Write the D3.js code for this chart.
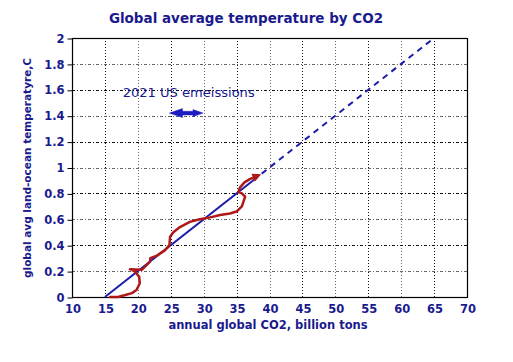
<!DOCTYPE html>
<html>
<head>
<meta charset="utf-8">
<script src="https://cdn.jsdelivr.net/npm/d3@7"></script>
<style>
  body { margin: 0; background: #fff; }
  text { font-family: "DejaVu Sans", Verdana, sans-serif; }
</style>
</head>
<body>
<svg width="513" height="362"></svg>
<script>
  'use strict';
  // data
  const xTicks = [10, 15, 20, 25, 30, 35, 40, 45, 50, 55, 60, 65, 70];
  const yTicks = [0, 0.2, 0.4, 0.6, 0.8, 1, 1.2, 1.4, 1.6, 1.8, 2];
  const yTickLabels = ['0', '0.2', '0.4', '0.6', '0.8', '1', '1.2', '1.4', '1.6', '1.8', '2'];
  // observed path: CO2 (billion tons), temperature (C)
  const obsCO2  = [15.8, 17.0, 18.1, 19.1, 19.8, 20.3, 20.2, 19.6, 18.8, 20.6, 21.4, 21.85, 21.9, 22.9, 24.1, 24.8, 24.9, 25.4, 26.4, 27.9, 29.4, 31.0, 32.5, 34.0, 35.0, 35.8, 36.3, 35.8, 35.3, 35.5, 36.2, 37.0, 38.0];
  const obsTemp = [0.0, 0.0, 0.015, 0.03, 0.054, 0.106, 0.157, 0.196, 0.215, 0.21, 0.25, 0.273, 0.30, 0.32, 0.36, 0.40, 0.466, 0.50, 0.54, 0.58, 0.60, 0.615, 0.633, 0.645, 0.66, 0.70, 0.775, 0.80, 0.81, 0.845, 0.885, 0.91, 0.932];
  // fitted trend
  const fitCO2 = [15, 37.5, 65];
  const fitTemp = [0, 0.9, 2];
  // 2021 US emissions marker
  const usLabel = '2021 US emeissions';
  const usArrow = { x0: 24.8, x1: 29.9, y: 1.42 };

  const svg = d3.select('svg');
  const navy = '#1a1a8e';
  const m = { left: 72, right: 467, top: 38, bottom: 297 };

  const x = d3.scaleLinear().domain([10, 70]).range([m.left, m.right]);
  const y = d3.scaleLinear().domain([0, 2]).range([m.bottom, m.top]);

  // grid
  const grid = svg.append('g');
  grid.selectAll('.gx').data(xTicks.slice(1, -1)).join('line')
    .attr('x1', d => Math.round(x(d)) + 0.5).attr('x2', d => Math.round(x(d)) + 0.5)
    .attr('y1', m.top).attr('y2', m.bottom)
    .attr('stroke', (d, i) => i % 2 ? '#666' : '#111')
    .attr('stroke-width', 1)
    .attr('stroke-dasharray', '1,2');
  grid.selectAll('.gy').data(yTicks.slice(1, -1)).join('line')
    .attr('x1', m.left).attr('x2', m.right)
    .attr('y1', d => Math.round(y(d)) + 0.5).attr('y2', d => Math.round(y(d)) + 0.5)
    .attr('stroke', (d, i) => i % 2 ? '#111' : '#666')
    .attr('stroke-width', 1)
    .attr('stroke-dasharray', '3,2,1,2');

  // frame
  svg.append('rect')
    .attr('x', m.left + 0.5).attr('y', m.top + 0.5)
    .attr('width', m.right - m.left).attr('height', m.bottom - m.top)
    .attr('fill', 'none').attr('stroke', '#000').attr('stroke-width', 1.2);

  // axes
  const yAxis = svg.append('g')
    .attr('transform', `translate(${m.left + 0.5},0.5)`)
    .call(d3.axisLeft(y).tickValues(yTicks).tickFormat((d, i) => yTickLabels[i]).tickSizeOuter(0).tickSize(5).tickPadding(3));
  yAxis.select('.domain').remove();
  yAxis.selectAll('text').attr('fill', navy).style('font-size', '11.5px').style('font-weight', 'bold')
    .style('font-family', '"DejaVu Sans", sans-serif');

  const xAxis = svg.append('g')
    .attr('transform', `translate(0.5,${m.bottom + 0.5})`)
    .call(d3.axisBottom(x).tickValues(xTicks).tickSize(0).tickPadding(7));
  xAxis.select('.domain').remove();
  xAxis.selectAll('text').attr('fill', navy).style('font-size', '11.5px').style('font-weight', 'bold')
    .style('font-family', '"DejaVu Sans", sans-serif');

  // titles
  svg.append('text')
    .attr('x', 246).attr('y', 23)
    .attr('text-anchor', 'middle')
    .attr('fill', navy)
    .style('font-size', '13.5px').style('font-weight', 'bold')
    .text('Global average temperature by CO2');

  svg.append('text')
    .attr('x', 268).attr('y', 329)
    .attr('text-anchor', 'middle')
    .attr('fill', navy)
    .style('font-size', '11.5px').style('font-weight', 'bold')
    .text('annual global CO2, billion tons');

  svg.append('text')
    .attr('transform', 'translate(31,168) rotate(-90)')
    .attr('text-anchor', 'middle')
    .attr('fill', navy)
    .style('font-size', '10.5px').style('font-weight', 'bold')
    .text('global avg land-ocean temperatyre,C');

  // fitted line: solid part then dashed
  const line = d3.line().x(d => x(d[0])).y(d => y(d[1]));
  const fit = fitCO2.map((c, i) => [c, fitTemp[i]]);
  svg.append('path')
    .attr('d', line(fit.slice(0, 2)))
    .attr('fill', 'none').attr('stroke', '#1c1ca8').attr('stroke-width', 2);
  svg.append('path')
    .attr('d', line(fit.slice(1)))
    .attr('fill', 'none').attr('stroke', '#1c1ca8').attr('stroke-width', 2)
    .attr('stroke-dasharray', '6,5');

  // observed path with arrowhead
  svg.append('defs').append('marker')
    .attr('id', 'redhead')
    .attr('viewBox', '0 0 10 10').attr('refX', 4).attr('refY', 5)
    .attr('markerWidth', 4).attr('markerHeight', 3.5)
    .attr('orient', 'auto')
    .append('path').attr('d', 'M0,0 L10,5 L0,10 z').attr('fill', '#b01818');

  const obs = obsCO2.map((c, i) => [c, obsTemp[i]]);
  svg.append('path')
    .attr('d', line(obs))
    .attr('fill', 'none').attr('stroke', '#b01818').attr('stroke-width', 2.5)
    .attr('stroke-linejoin', 'round').attr('stroke-linecap', 'round')
    .attr('marker-end', 'url(#redhead)');

  // annotation
  svg.append('text')
    .attr('x', x(17.7)).attr('y', y(1.575))
    .attr('dy', '0.35em')
    .attr('fill', navy)
    .attr('textLength', 132).attr('lengthAdjust', 'spacingAndGlyphs')
    .style('font-size', '12px')
    .text(usLabel);

  const ax0 = x(usArrow.x0), ax1 = x(usArrow.x1), ay = y(usArrow.y);
  svg.append('path')
    .attr('d', `M${ax0},${ay} L${ax0 + 13},${ay - 4.5} L${ax0 + 13},${ay - 1.8} L${ax1 - 10},${ay - 1.8} L${ax1 - 10},${ay - 3.5} L${ax1},${ay} L${ax1 - 10},${ay + 3.5} L${ax1 - 10},${ay + 1.8} L${ax0 + 13},${ay + 1.8} L${ax0 + 13},${ay + 4.5} Z`)
    .attr('fill', '#1c1cc0').attr('stroke', '#1c1cc0').attr('stroke-width', 0.5);
</script>
</body>
</html>
